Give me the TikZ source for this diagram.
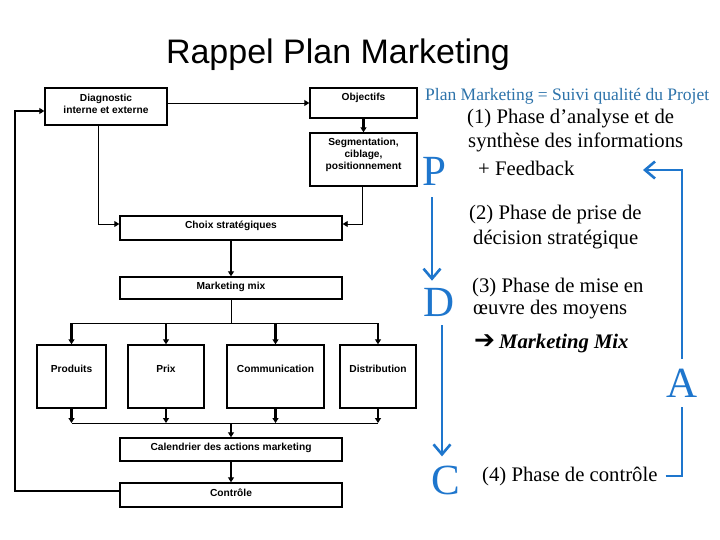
\documentclass[tikz,border=0pt]{standalone}
\usepackage{fontspec}
\setmainfont{Liberation Serif}
\newfontfamily\arialf{Liberation Sans}
\newfontfamily\dejavuf{DejaVu Sans}
\usetikzlibrary{arrows.meta,fit,calc}
\definecolor{pblue}{RGB}{30,118,205}
\definecolor{hblue}{RGB}{45,115,170}
\begin{document}
\begin{tikzpicture}[x=1pt,y=-1pt,
  box/.style={draw=black, line width=1.4pt, inner sep=0pt},
  btxt/.style={font=\arialf\bfseries\fontsize{10.2}{12}\selectfont, align=center, inner sep=0pt},
  thinln/.style={line width=0.9pt},
  thickln/.style={line width=2.2pt},
  arr/.style={-{Triangle[length=5pt,width=6pt]}},
  rtxt/.style={font=\fontsize{20.7}{24}\selectfont, anchor=base west, inner sep=0pt},
  blet/.style={font=\fontsize{43}{43}\selectfont, text=pblue, inner sep=0pt},
  blueln/.style={draw=pblue, line width=2.6pt},
  bluearr/.style={blueln, -{Straight Barb[length=10pt,width=17pt]}}]
\useasboundingbox (0,0) rectangle (720,540);
\fill[white] (0,0) rectangle (720,540);

% title
\node[font=\arialf\fontsize{34}{36}\selectfont, anchor=base, inner sep=0pt] (title) at (338,64) {Rappel Plan Marketing};

% boxes
\node[box, fit={(45,88) (167,125)}] (diag) {};
\node[box, fit={(310,88) (417,118)}] (obj) {};
\node[box, fit={(310,133) (417,186)}] (seg) {};
\node[box, fit={(120,216) (342,240)}] (choix) {};
\node[box, fit={(120,277) (342,299)}] (mix) {};
\node[box, fit={(37,345) (106,408)}] (prod) {};
\node[box, fit={(128,345) (204,408)}] (prix) {};
\node[box, fit={(227,345) (324,408)}] (comm) {};
\node[box, fit={(340,345) (416,408)}] (dist) {};
\node[box, fit={(120,438) (342,461)}] (cal) {};
\node[box, fit={(120,483) (342,507)}] (ctrl) {};

% box texts
\node[btxt] (tdiag) at (106,104) {Diagnostic\\interne et externe};
\node[btxt] (tobj) at (363.5,98) {Objectifs};
\node[btxt] (tseg) at (363.5,155) {Segmentation,\\ciblage,\\positionnement};
\node[btxt] (tchoix) at (231,226) {Choix stratégiques};
\node[btxt] (tmix) at (231,287) {Marketing mix};
\node[btxt] (tprod) at (71.5,369) {Produits};
\node[btxt] (tprix) at (166,369) {Prix};
\node[btxt] (tcomm) at (275.5,369) {Communication};
\node[btxt] (tdist) at (378,369) {Distribution};
\node[btxt] (tcal) at (231,448) {Calendrier des actions marketing};
\node[btxt] (tctrl) at (231,493) {Contrôle};

% connectors
\draw[thinln, arr] (diag.east |- 0,103) -- (obj.west |- 0,103);
\draw[thickln, arr] (obj.south) -- (seg.north);
\draw[thinln, arr] (diag.south -| 98,0) |- (choix.west |- 0,224);
\draw[thinln, arr] (seg.south -| 362,0) |- (choix.east |- 0,224);
\draw[thickln, arr] (choix.south) -- (mix.north);
\coordinate (split) at (231,323);
\draw[thinln] (mix.south) -- (split);
\draw[thinln] (prod.north |- split) -- (dist.north |- split);
\foreach \b in {prod,prix,comm,dist}
  \draw[thickln, arr] (\b.north |- split) -- (\b.north);
\coordinate (merge) at (231,423);
\foreach \b in {prod,prix,comm,dist}
  \draw[thickln, arr] (\b.south) -- (\b.south |- merge);
\draw[thinln] (prod.south |- merge) -- (dist.south |- merge);
\draw[thickln, arr] (merge) -- (cal.north);
\draw[thickln, arr] (cal.south) -- (ctrl.north);
\draw[line width=1.8pt, arr] (ctrl.west |- 0,491) -- (15,491) -- (15,111) -- (diag.west |- 0,111);

% right side
\node[font=\fontsize{17.5}{20}\selectfont, text=hblue, anchor=base west, inner sep=0pt] (head) at (425,101) {Plan Marketing = Suivi qualité du Projet};
\node[rtxt] (t1a) at (467,124) {(1) Phase d’analyse et de};
\node[rtxt] (t1b) at (468,148) {synthèse des informations};
\node[rtxt] (tfb) at (478,176) {+ Feedback};
\node[rtxt] (t2a) at (469,220) {(2) Phase de prise de};
\node[rtxt] (t2b) at (473,244) {décision stratégique};
\node[rtxt] (t3a) at (472,292) {(3) Phase de mise en};
\node[rtxt] (t3b) at (473,314) {œuvre des moyens};
\node[rtxt] (tmm) at (474,348) {{\dejavuf\bfseries\fontsize{25}{25}\selectfont ➔}\kern4pt{\bfseries\itshape Marketing Mix}};
\node[rtxt] (t4) at (482,481) {(4) Phase de contrôle};

\node[blet] (P) at (434,171) {P};
\node[blet] (D) at (439,302) {D};
\node[blet] (A) at (682,383) {A};
\node[blet] (C) at (446,480) {C};
\coordinate (fbtip) at (643,170);

\draw[bluearr, shorten <=12pt, shorten >=7pt] (P.south -| 432,0) -- (D.north -| 432,0);
\draw[bluearr, shorten <=9pt, shorten >=9pt] (D.south -| 442,0) -- (C.north -| 442,0);
\draw[blueln, shorten >=10pt] ([xshift=8pt]t4.east) -| (A.south);
\draw[bluearr, shorten <=10pt] (A.north) |- (fbtip);
\end{tikzpicture}
\end{document}
